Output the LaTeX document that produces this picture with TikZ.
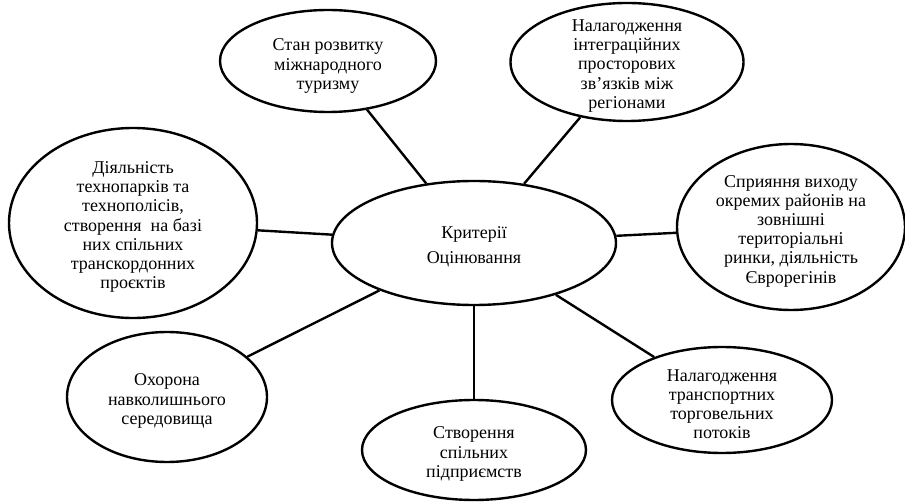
\documentclass[tikz,border=0pt]{standalone}
\usepackage{fontspec}
\setmainfont{Liberation Serif}
\usetikzlibrary{shapes.geometric}
\begin{document}
\begin{tikzpicture}[x=1pt,y=-1pt,
  ell/.style={ellipse, draw=black, line width=2.4pt, inner sep=0pt},
  txt/.style={align=center, font=\fontsize{18}{19.2}\selectfont},
  conn/.style={draw=black, line width=2.4pt}]
\useasboundingbox (0,0) rectangle (905,502);
\node[ell, minimum width=284, minimum height=124,
  label={[txt, font=\fontsize{18}{25.5}\selectfont, yshift=-4pt]center:Критерії\\Оцінювання}] (c) at (474,243) {};
\node[ell, minimum width=216, minimum height=102,
  label={[txt, yshift=-5pt]center:Стан розвитку\\міжнародного\\туризму}] (a) at (328,61) {};
\node[ell, minimum width=233, minimum height=118,
  label={[txt, yshift=-4pt]center:Налагодження\\інтеграційних\\просторових\\зв’язків між\\регіонами}] (b) at (627,62) {};
\node[ell, minimum width=248, minimum height=190,
  label={[txt, yshift=-4pt]center:Діяльність\\технопарків та\\технополісів,\\створення~ на базі\\них спільних\\транскордонних\\проєктів}] (d) at (133,223) {};
\node[ell, minimum width=228, minimum height=166,
  label={[txt, yshift=-4pt]center:Сприяння виходу\\окремих районів на\\зовнішні\\територіальні\\ринки, діяльність\\Єврорегінів}] (e) at (791,227) {};
\node[ell, minimum width=200, minimum height=130,
  label={[txt, yshift=-4pt]center:Охорона\\навколишнього\\середовища}] (f) at (167,397) {};
\node[ell, minimum width=224, minimum height=100,
  label={[txt, yshift=-4pt]center:Створення\\спільних\\підприємств}] (g) at (474,450) {};
\node[ell, minimum width=220, minimum height=106,
  label={[txt, yshift=-4pt]center:Налагодження\\транспортних\\торговельних\\потоків}] (h) at (722,400) {};
\draw[conn] (a) -- (c);
\draw[conn] (b) -- (c);
\draw[conn] (d) -- (c);
\draw[conn] (e) -- (c);
\draw[conn] (f) -- (c);
\draw[conn] (g) -- (c);
\draw[conn] (h) -- (c);
\end{tikzpicture}
\end{document}
